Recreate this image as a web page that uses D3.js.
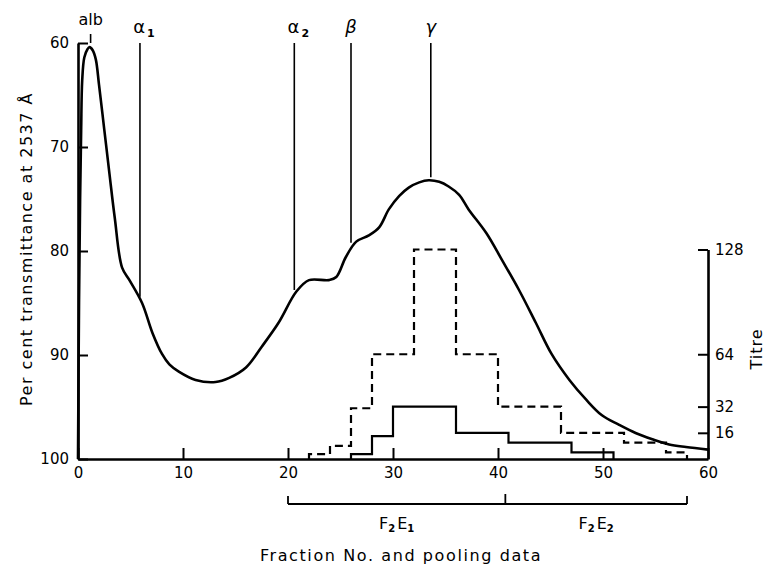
<!DOCTYPE html>
<html>
<head>
<meta charset="utf-8">
<script src="https://cdn.jsdelivr.net/npm/d3@7"></script>
<style>
  body { margin: 0; background: #fff; }
  svg { display: block; }
  text { font-family: "DejaVu Sans", sans-serif; fill: #000; }
</style>
</head>
<body>
<svg id="chart" width="766" height="569"></svg>
<script>
// fraction number vs per cent transmittance
var fraction = [0, 0.1, 0.2, 0.3, 0.4, 0.6, 0.9, 1.1, 1.4, 1.7, 2.0, 2.5, 3.0, 3.5, 4.2,
  4.9, 6.1, 7.1, 8.0, 8.7, 9.6, 11.2, 13.1, 14.4, 16.0, 17.5, 19.1, 20.8, 22.0, 23.9, 24.6,
  25.5, 26.5, 27.7, 28.7, 29.6, 30.6, 31.5, 32.5, 33.4, 34.4, 35.3, 36.3, 37.2, 38.9,
  40.4, 42.0, 43.6, 45.1, 46.8, 48.4, 49.9, 51.5, 53.1, 54.7, 56.3, 57.9, 60];
var transmittance = [100, 84.7, 75.1, 68.4, 63.6, 61.4, 60.6, 60.4, 60.7, 61.6, 64.0, 68.3, 72.6, 76.8, 81.6,
  82.8, 85.0, 87.9, 89.9, 90.9, 91.6, 92.4, 92.6, 92.2, 91.2, 89.2, 86.9, 83.9, 82.8, 82.8, 82.5,
  80.6, 79.1, 78.5, 77.7, 76.0, 74.7, 73.9, 73.4, 73.2, 73.35, 73.8, 74.6, 76.0, 78.3,
  80.9, 83.75, 86.9, 89.9, 92.4, 94.3, 95.8, 96.7, 97.5, 98.1, 98.6, 98.85, 99.1];

// peak markers
var markerNames = ["alb", "α", "α", "β", "γ"];
var markerSubs = ["", "1", "2", "", ""];
var markerFractions = [1.2, 5.9, 20.6, 26.0, 33.6];
var markerEnds = [null, 84.4, 83.75, 79.2, 72.9];

// titre steps (fraction edges, titre per pool)
var dashedEdges = [22, 24, 26, 28, 32, 36, 40, 46, 52, 56, 58];
var dashedTitre = [3, 8, 31, 64, 128, 64, 32, 16, 10, 4];
var solidEdges = [26, 28, 30, 36, 41, 47, 51];
var solidTitre = [3, 14, 32, 16, 10, 4];

// pooling
var poolNames = ["1", "2"];
var poolEdges = [20, 40.7, 58];

var leftTicks = [60, 70, 80, 90, 100];
var bottomTicks = [0, 10, 20, 30, 40, 50, 60];
var rightTicks = [16, 32, 64, 128];

var svg = d3.select("#chart");

var x = d3.scaleLinear().domain([0, 60]).range([78, 708]);
var y = d3.scaleLinear().domain([60, 100]).range([43, 459]);
var yTitre = d3.scaleLinear().domain([0, 128]).range([459, 249.5]);

function styleAxis(g, size) {
  g.select(".domain").attr("stroke", "#000").attr("stroke-width", 2.6);
  g.selectAll(".tick line").attr("stroke", "#000").attr("stroke-width", 2);
  g.selectAll(".tick text").attr("font-size", size).attr("font-family", "DejaVu Sans, sans-serif");
}

svg.append("g")
  .attr("transform", "translate(" + x(0) + ",0)")
  .call(d3.axisLeft(y).tickValues(leftTicks).tickSize(-10).tickSizeOuter(0).tickPadding(9))
  .call(styleAxis, 15);

svg.append("g")
  .attr("transform", "translate(0," + y(100) + ")")
  .call(d3.axisBottom(x).tickValues(bottomTicks).tickSize(-11).tickSizeOuter(0).tickPadding(8))
  .call(styleAxis, 15);

svg.append("g")
  .attr("transform", "translate(" + x(60) + ",0)")
  .call(d3.axisRight(yTitre).tickValues(rightTicks).tickSize(-10).tickSizeOuter(0).tickPadding(7))
  .call(styleAxis, 15);

// transmittance trace
var line = d3.line()
  .x(function(d, i) { return x(fraction[i]); })
  .y(function(d) { return y(d); })
  .curve(d3.curveCatmullRom.alpha(0.5));

svg.append("path")
  .datum(transmittance)
  .attr("d", line)
  .attr("fill", "none")
  .attr("stroke", "#000")
  .attr("stroke-width", 2.6)
  .attr("stroke-linejoin", "round");

// titre step lines
function stepPoints(edges, vals) {
  var pts = [[edges[0], 0]];
  vals.forEach(function(v, i) { pts.push([edges[i], v]); });
  pts.push([edges[edges.length - 1], vals[vals.length - 1]]);
  pts.push([edges[edges.length - 1], 0]);
  return pts;
}

var step = d3.line()
  .x(function(d) { return x(d[0]); })
  .y(function(d) { return yTitre(d[1]); })
  .curve(d3.curveStepAfter);

svg.append("path")
  .attr("d", step(stepPoints(dashedEdges, dashedTitre)))
  .attr("fill", "none")
  .attr("stroke", "#000")
  .attr("stroke-width", 2.2)
  .attr("stroke-dasharray", "8,5");

svg.append("path")
  .attr("d", step(stepPoints(solidEdges, solidTitre)))
  .attr("fill", "none")
  .attr("stroke", "#000")
  .attr("stroke-width", 2.2);

// peak markers
markerFractions.forEach(function(f, i) {
  var end = markerEnds[i];
  svg.append("line")
    .attr("x1", x(f)).attr("x2", x(f))
    .attr("y1", end == null ? y(60) - 9 : y(60))
    .attr("y2", end == null ? y(60) : y(end))
    .attr("stroke", "#000")
    .attr("stroke-width", 1.6);

  var t = svg.append("text")
    .attr("x", x(f) + (markerSubs[i] ? 4 : 0))
    .attr("y", i === 0 ? 25 : 33)
    .attr("text-anchor", "middle")
    .attr("font-size", i === 0 ? 16 : 18)
    .attr("font-style", i > 2 ? "italic" : "normal");
  t.append("tspan").text(markerNames[i]);
  if (markerSubs[i]) {
    t.append("tspan").attr("dy", 4).attr("dx", 2).attr("font-size", 11)
      .attr("font-weight", "bold").text(markerSubs[i]);
  }
});

// pooling bracket
var bracketY = 504;
svg.append("line")
  .attr("x1", x(poolEdges[0])).attr("x2", x(poolEdges[poolEdges.length - 1]))
  .attr("y1", bracketY).attr("y2", bracketY)
  .attr("stroke", "#000").attr("stroke-width", 1.8);

poolEdges.forEach(function(e, i) {
  svg.append("line")
    .attr("x1", x(e)).attr("x2", x(e))
    .attr("y1", bracketY).attr("y2", bracketY - (i === 1 ? 10 : 8))
    .attr("stroke", "#000").attr("stroke-width", 1.8);
});

poolNames.forEach(function(n, i) {
  var cx = (x(poolEdges[i]) + x(poolEdges[i + 1])) / 2;
  var t = svg.append("text")
    .attr("x", cx).attr("y", 529)
    .attr("text-anchor", "middle")
    .attr("font-size", 16);
  t.append("tspan").text("F");
  t.append("tspan").attr("dy", 3).attr("font-size", 10).attr("font-weight", "bold").text("2");
  t.append("tspan").attr("dy", -3).attr("dx", 2).text("E");
  t.append("tspan").attr("dy", 3).attr("font-size", 10).attr("font-weight", "bold").text(n);
});

// axis titles
svg.append("text")
  .attr("transform", "translate(32,249) rotate(-90)")
  .attr("text-anchor", "middle")
  .attr("font-size", 16)
  .attr("letter-spacing", 1.5)
  .text("Per cent transmittance at 2537 Å");

svg.append("text")
  .attr("transform", "translate(762,349) rotate(-90)")
  .attr("text-anchor", "middle")
  .attr("font-size", 16)
  .attr("letter-spacing", 1)
  .text("Titre");

svg.append("text")
  .attr("x", 401).attr("y", 561)
  .attr("text-anchor", "middle")
  .attr("font-size", 16)
  .attr("letter-spacing", 1.6)
  .text("Fraction No. and pooling data");
</script>
</body>
</html>
